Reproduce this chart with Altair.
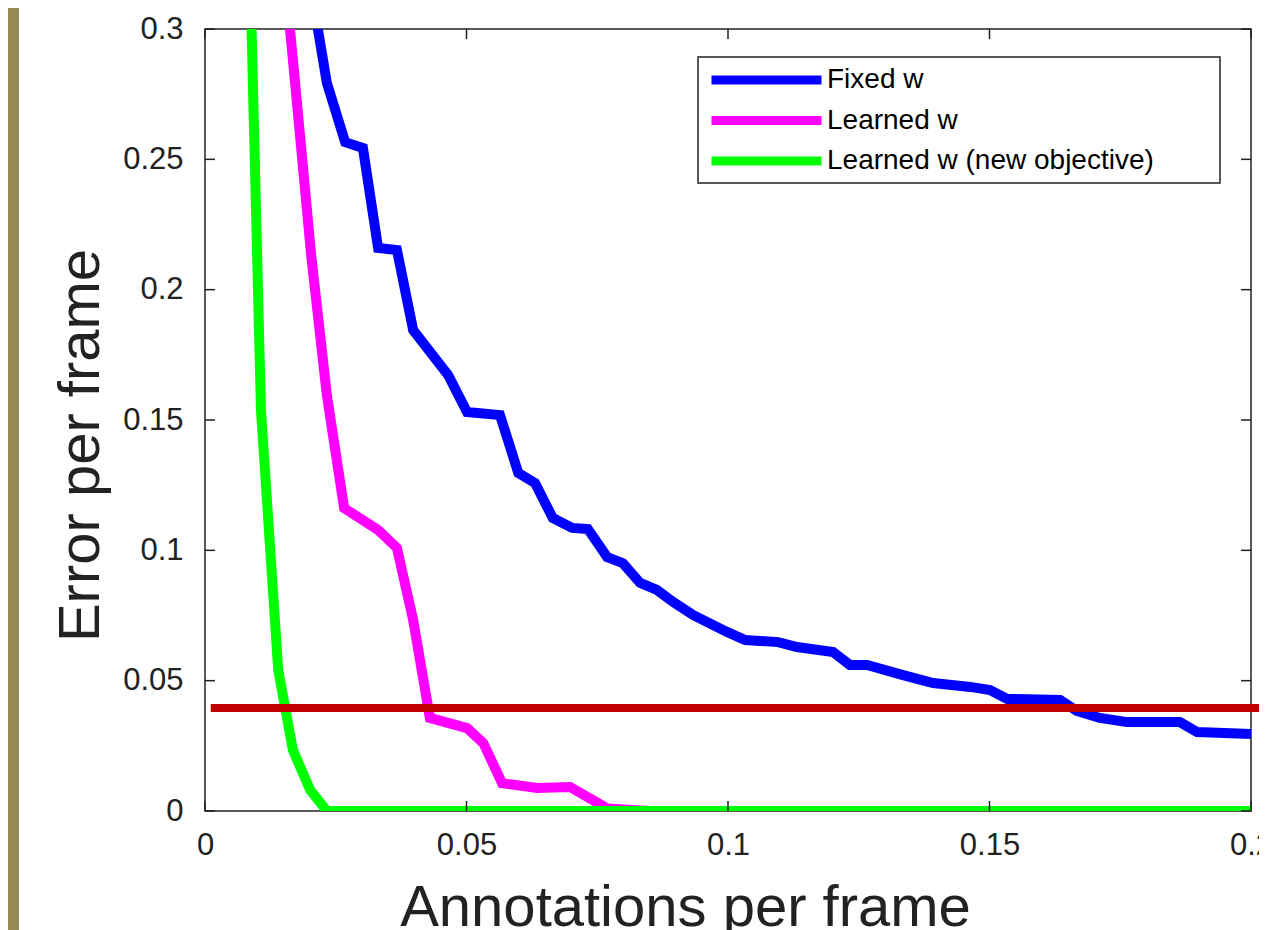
import altair as alt
import pandas as pd

# ---------------- data ----------------
SERIES = ["Fixed w", "Learned w", "Learned w (new objective)"]
COLORS = ["#0000FF", "#FF00FF", "#00FF00"]

fixed_x = [0.0200, 0.0233, 0.0268, 0.0302, 0.0331, 0.0367, 0.0398, 0.0465, 0.0501,
           0.0564, 0.0599, 0.0631, 0.0665, 0.0702, 0.0732, 0.0769, 0.0799, 0.0832,
           0.0864, 0.0895, 0.0933, 0.0998, 0.1033, 0.1096, 0.1132, 0.1201, 0.1233,
           0.1266, 0.1333, 0.1392, 0.1463, 0.1501, 0.1534, 0.1635, 0.1667, 0.1711,
           0.1763, 0.1864, 0.1897, 0.2000]
fixed_y = [0.3190, 0.2793, 0.2566, 0.2543, 0.2160, 0.2152, 0.1845, 0.1672, 0.1531,
           0.1519, 0.1297, 0.1258, 0.1124, 0.1086, 0.1082, 0.0974, 0.0951, 0.0875,
           0.0848, 0.0802, 0.0752, 0.0687, 0.0656, 0.0648, 0.0629, 0.0610, 0.0560,
           0.0560, 0.0522, 0.0491, 0.0476, 0.0464, 0.0430, 0.0426, 0.0384, 0.0357,
           0.0341, 0.0341, 0.0303, 0.0295]

learned_x = [0.0138, 0.0170, 0.0203, 0.0233, 0.0266, 0.0331, 0.0367, 0.0398, 0.0430,
             0.0501, 0.0532, 0.0568, 0.0635, 0.0698, 0.0769, 0.0851, 0.2000]
learned_y = [0.3510, 0.2842, 0.2133, 0.1596, 0.1162, 0.1078, 0.1009, 0.0733, 0.0357,
             0.0318, 0.0261, 0.0107, 0.0088, 0.0092, 0.0010, 0.0000, 0.0000]

newobj_x = [0.0073, 0.0107, 0.0140, 0.0168, 0.0201, 0.0233, 0.2000]
newobj_y = [0.4300, 0.1538, 0.0541, 0.0234, 0.0081, 0.0000, 0.0000]

threshold_x = [0.0011, 0.2016]
threshold_y = [0.0395, 0.0395]

x_ticks = [0, 0.05, 0.1, 0.15, 0.2]
y_ticks = [0, 0.05, 0.1, 0.15, 0.2, 0.25, 0.3]

# ---------------- layout ----------------
W, H = 1046, 782
FONT = "Liberation Sans"
INK = "#222222"

rows = []
for name, xs, ys in zip(SERIES, [fixed_x, learned_x, newobj_x], [fixed_y, learned_y, newobj_y]):
    for i, (xv, yv) in enumerate(zip(xs, ys)):
        rows.append({"series": name, "x": xv, "y": yv, "order": i})
df = pd.DataFrame(rows)
thr = pd.DataFrame({"x": threshold_x, "y": threshold_y})
xt = pd.DataFrame({"x": x_ticks})
yt = pd.DataFrame({"y": y_ticks})
one = pd.DataFrame({"a": [0]})

xscale = alt.Scale(domain=[0, 0.2], nice=False, zero=False)
yscale = alt.Scale(domain=[0, 0.3], nice=False, zero=False)

xaxis = alt.Axis(values=x_ticks, format="~g", ticks=False, domain=False, grid=False,
                 labelFontSize=31, labelFont=FONT, labelColor=INK, labelPadding=19,
                 labelFlush=False, labelOverlap=False,
                 title="Annotations per frame", titleFont=FONT, titleFontSize=58,
                 titleFontWeight="normal", titleColor=INK, titleX=480, titleY=114,
                 titleAlign="center", titleBaseline="alphabetic")
yaxis = alt.Axis(values=y_ticks, format="~g", ticks=False, domain=False, grid=False,
                 labelFontSize=31, labelFont=FONT, labelColor=INK, labelPadding=22,
                 labelFlush=False, labelOverlap=False,
                 title="Error per frame", titleFont=FONT, titleFontSize=58,
                 titleFontWeight="normal", titleColor=INK, titleAngle=270,
                 titleX=-107, titleY=416, titleAlign="center", titleBaseline="alphabetic")

strip = alt.Chart(one).mark_rect(color="#968a56").encode(
    x=alt.value(-197), x2=alt.value(-186), y=alt.value(-21), y2=alt.value(920))

legend_box = alt.Chart(one).mark_rect(fill="white", stroke=INK, strokeWidth=1.5).encode(
    x=alt.value(493), x2=alt.value(1015), y=alt.value(28), y2=alt.value(154))

lines = alt.Chart(df).mark_line(strokeWidth=10, clip=True).encode(
    x=alt.X("x:Q", scale=xscale, axis=xaxis),
    y=alt.Y("y:Q", scale=yscale, axis=yaxis),
    color=alt.Color("series:N", scale=alt.Scale(domain=SERIES, range=COLORS),
                    legend=alt.Legend(title=None, orient="none", legendX=502, legendY=32,
                                      symbolType="stroke", symbolSize=12100,
                                      symbolStrokeWidth=9, labelFontSize=28,
                                      labelFont=FONT, labelColor="black", labelLimit=0,
                                      labelOffset=1, clipHeight=38, rowPadding=2.5,
                                      padding=0)),
    order="order:Q",
)

red = alt.Chart(thr).mark_line(color="#C00000", strokeWidth=8, clip=False).encode(
    x=alt.X("x:Q", scale=xscale), y=alt.Y("y:Q", scale=yscale))

tick_style = dict(color=INK, strokeWidth=1.5)
bottom_ticks = alt.Chart(xt).mark_rule(**tick_style).encode(
    x=alt.X("x:Q", scale=xscale), y=alt.value(H), y2=alt.value(H - 10))
top_ticks = alt.Chart(xt).mark_rule(**tick_style).encode(
    x=alt.X("x:Q", scale=xscale), y=alt.value(0), y2=alt.value(10))
left_ticks = alt.Chart(yt).mark_rule(**tick_style).encode(
    y=alt.Y("y:Q", scale=yscale), x=alt.value(0), x2=alt.value(10))
right_ticks = alt.Chart(yt).mark_rule(**tick_style).encode(
    y=alt.Y("y:Q", scale=yscale), x=alt.value(W), x2=alt.value(W - 10))

chart = alt.layer(strip, legend_box, lines, red, bottom_ticks, top_ticks,
                  left_ticks, right_ticks).properties(
    width=W, height=H,
    autosize=alt.AutoSizeParams(type="none"),
    padding={"left": 197, "top": 21, "right": 8, "bottom": 130},
    background="white",
).configure_view(stroke=INK, strokeWidth=1.5)

chart.save("out.html", embed_options={"renderer": "svg", "actions": False})
